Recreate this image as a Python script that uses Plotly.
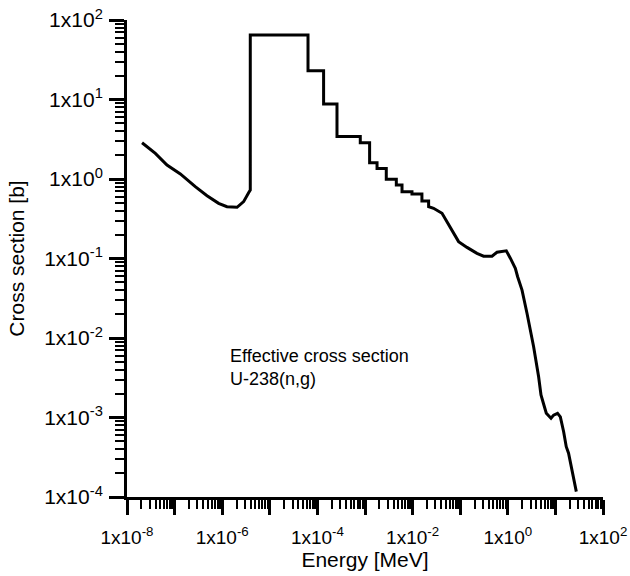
import plotly.graph_objects as go

# Energy [MeV] and effective cross section [b]
energy = [2.07e-8, 3.94e-8, 6.92e-8, 1.32e-7, 2.72e-7, 4.80e-7, 8.4e-7, 1.26e-6, 2.05e-6,
          2.82e-6, 3.59e-6, 3.89e-6,
          3.89e-6, 6.35e-5, 6.35e-5, 1.35e-4, 1.35e-4, 2.58e-4, 2.58e-4, 7.96e-4, 7.96e-4,
          1.25e-3, 1.25e-3, 1.79e-3, 1.79e-3, 2.80e-3, 2.80e-3, 4.55e-3, 4.55e-3, 5.99e-3,
          5.99e-3, 9.7e-3, 9.7e-3, 1.57e-2, 1.57e-2, 2.17e-2, 2.17e-2,
          2.76e-2, 4.15e-2, 5.28e-2, 7.27e-2, 9.25e-2, 0.139, 0.225, 0.310, 0.466, 0.593,
          0.93, 1.13, 1.44, 1.61, 1.99, 2.53, 3.48, 4.44, 4.98, 5.65, 6.44, 8.09, 9.17,
          11.1, 12.7, 14.9, 16.9, 18.9, 21.3, 24.1, 27.5]
xsec = [2.86, 2.10, 1.50, 1.16, 0.80, 0.617, 0.494, 0.449, 0.441,
        0.519, 0.673, 0.728,
        64.7, 64.7, 23.0, 23.0, 8.77, 8.77, 3.43, 3.43, 2.86,
        2.86, 1.60, 1.60, 1.36, 1.36, 0.99, 0.99, 0.84, 0.84,
        0.69, 0.69, 0.648, 0.648, 0.528, 0.528, 0.448,
        0.428, 0.370, 0.290, 0.217, 0.163, 0.138, 0.116, 0.107, 0.107, 0.120,
        0.125, 0.101, 0.0754, 0.059, 0.040, 0.0205, 7.8e-3, 3.26e-3, 1.92e-3, 1.48e-3,
        1.13e-3, 9.77e-4, 1.07e-3, 1.13e-3, 1.02e-3, 6.62e-4, 4.29e-4, 3.55e-4, 2.41e-4,
        1.80e-4, 1.17e-4]

x_exponents = list(range(-8, 3))
x_tickvals = [10.0 ** e for e in x_exponents]
x_ticktext = [("1x10<sup>%d</sup>" % e) if e % 2 == 0 else "" for e in x_exponents]
y_exponents = list(range(-4, 3))
y_tickvals = [10.0 ** e for e in y_exponents]
y_ticktext = ["1x10<sup>%d</sup>" % e for e in y_exponents]

font = "Liberation Sans, Arial, sans-serif"

fig = go.Figure()
fig.add_trace(go.Scatter(x=energy, y=xsec, mode="lines",
                         line=dict(color="black", width=3), showlegend=False,
                         cliponaxis=False))

fig.update_layout(
    width=630, height=576,
    margin=dict(l=127, r=27, t=20, b=79),
    paper_bgcolor="white", plot_bgcolor="white",
    font=dict(family=font, size=18, color="black"),
    xaxis=dict(type="log", range=[-8, 2], tickmode="array", tickvals=x_tickvals,
               ticktext=x_ticktext, ticks="outside", ticklen=15, tickwidth=3,
               tickcolor="black", showline=True, linewidth=3, linecolor="black",
               showgrid=False, zeroline=False, tickfont=dict(size=19),
               ticklabelstandoff=6, automargin=False,
               minor=dict(dtick="D1", ticks="outside", ticklen=9, tickwidth=2,
                          tickcolor="black", showgrid=False),
               title=dict(text="Energy [MeV]", font=dict(size=21), standoff=0)),
    yaxis=dict(type="log", range=[-4, 2], tickmode="array", tickvals=y_tickvals,
               ticktext=y_ticktext, ticks="outside", ticklen=15, tickwidth=3,
               tickcolor="black", showline=True, linewidth=3, linecolor="black",
               showgrid=False, zeroline=False, tickfont=dict(size=21),
               ticklabelstandoff=2, automargin=False,
               minor=dict(dtick="D1", ticks="outside", ticklen=9, tickwidth=2,
                          tickcolor="black", showgrid=False),
               title=dict(text="Cross section [b]", font=dict(size=21), standoff=14)),
    annotations=[dict(x=-5.87, y=-2.365, xref="x", yref="y",
                      text="Effective cross section<br>U-238(n,g)",
                      showarrow=False, xanchor="left", yanchor="middle", align="left",
                      font=dict(size=18, family=font, color="black"))],
)

fig.write_html("out.html")
